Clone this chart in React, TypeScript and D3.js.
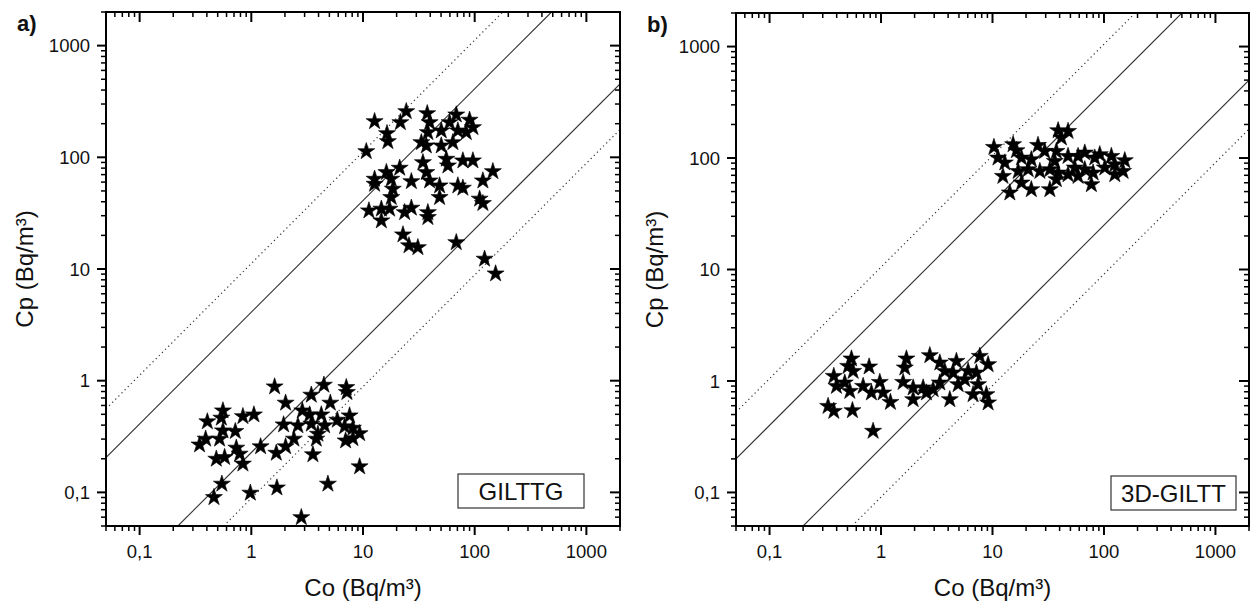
import React from 'react';
import * as d3 from 'd3';

const W = 1254;
const H = 602;
const DOMAIN: [number, number] = [0.05, 2000];
const majorTicks = [0.1, 1, 10, 100, 1000];
const tickLabels = ['0,1', '1', '10', '100', '1000'];
const xTitle = 'Co (Bq/m³)';
const yTitle = 'Cp (Bq/m³)';

// Panel a) GILTTG
const aCo = [
  12.7, 24.4, 21.6, 16.4, 16.7, 10.7, 37.6, 39.5, 68.4, 90.0, 96.4, 59.6, 50.2, 70.7, 84.1, 38.1, 33.3, 36.9, 50.2, 63.8,
  21.3, 16.2, 12.7, 12.7, 17.9, 18.5, 17.9, 27.1, 34.4, 36.9, 39.5, 48.5, 48.5, 55.7, 57.6, 78.4, 96.4, 145.5, 118.4, 70.7,
  78.4, 110.7, 118.4, 11.3, 14.6, 17.3, 14.6, 23.6, 27.1, 38.1, 38.1, 22.8, 25.8, 31.0, 68.4, 122.6, 153.9,
  1.617, 2.028, 0.557, 0.539, 0.404, 0.841, 1.055, 0.719, 0.557, 0.52, 0.39, 0.344, 0.734, 0.786, 0.577, 0.486, 0.841,
  1.211, 0.545, 0.463, 0.98, 1.695, 1.674, 2.028, 1.946, 2.406, 2.614, 2.861, 3.445, 4.467, 5.096, 3.326, 4.234, 3.445,
  4.532, 3.947, 3.818, 3.561, 5.888, 7.087, 7.176, 7.586, 6.842, 8.121, 9.324, 6.985, 8.121, 4.851, 9.324, 2.803,
];
const aCp = [
  209.6, 257.6, 205.2, 163.7, 138.8, 112.9, 247, 205.2, 240.5, 215.8, 185.2, 205.2, 173, 173, 167.1, 167.1, 135.9, 126.9, 126.9, 135.9,
  80.2, 73.3, 63.9, 57.6, 63.9, 52.0, 43.8, 60.8, 90.0, 73.3, 61.7, 55.7, 43.8, 96.5, 84.1, 93.3, 93.3, 74.8, 61.7, 55.7,
  53.1, 42.4, 38.7, 33.3, 34.5, 34.5, 27.1, 32.1, 35.2, 32.1, 29.0, 20.3, 16.2, 15.6, 17.3, 12.3, 9.08,
  0.884, 0.632, 0.539, 0.464, 0.43, 0.479, 0.496, 0.352, 0.357, 0.301, 0.301, 0.267, 0.25, 0.221, 0.206, 0.199, 0.18,
  0.257, 0.119, 0.0902, 0.0988, 0.11, 0.225, 0.257, 0.404, 0.301, 0.396, 0.539, 0.745, 0.915, 0.632, 0.496, 0.496, 0.41,
  0.396, 0.333, 0.301, 0.218, 0.445, 0.871, 0.786, 0.486, 0.388, 0.377, 0.337, 0.29, 0.304, 0.119, 0.17, 0.0597,
];

// Panel b) 3D-GILTT
const bCo = [
  38.8, 47.6, 41.5, 10.3, 15.3, 25.6, 16.4, 11.2, 12.9, 18.2, 22.3, 29.4, 37.4, 36.2, 47.6, 58.6, 67.3, 82.7, 91.7, 116.5,
  153.7, 125.0, 148.4, 101.7, 79.9, 67.3, 54.7, 47.6, 38.8, 32.7, 26.6, 20.9, 17.0, 12.4, 18.2, 22.3, 14.3, 32.7, 37.4, 77.1,
  58.6, 125.0,
  0.543, 0.507, 0.562, 0.782, 0.377, 0.398, 0.473, 0.525, 0.691, 0.82, 0.975, 1.044, 1.214, 0.335, 0.377, 0.554, 0.849,
  1.69, 1.635, 1.578, 1.941, 1.941, 2.386, 2.74, 3.369, 3.735, 4.746, 4.433, 3.369, 2.933, 4.14, 4.916, 6.043, 7.693,
  9.131, 7.171, 7.428, 6.699, 8.815, 9.131, 5.644, 2.554,
];
const bCp = [
  176.4, 174.0, 151.8, 125.0, 132.2, 130.3, 116.8, 100.4, 90.6, 100.4, 96.9, 115.1, 115.1, 93.6, 103.8, 103.8, 111.3, 100.4, 107.5, 103.8,
  95.0, 87.4, 76.1, 81.7, 73.7, 78.9, 81.7, 71.1, 73.7, 78.9, 76.1, 78.9, 76.1, 68.7, 59.9, 52.2, 48.8, 52.2, 64.2, 57.9,
  68.7, 71.1,
  1.582, 1.358, 1.224, 1.341, 1.104, 0.898, 0.963, 0.81, 0.898, 0.784, 0.975, 0.784, 0.645, 0.594, 0.536, 0.544, 0.355,
  1.582, 1.313, 0.975, 0.869, 0.682, 0.869, 1.693, 1.456, 1.224, 1.505, 1.184, 0.963, 0.839, 0.682, 0.93, 1.224, 1.669,
  1.406, 1.184, 0.93, 0.757, 0.757, 0.638, 1.031, 0.784,
];

const aSolidFactors = [4.1, 1 / 4.4];
const aDottedFactors = [11.2, 1 / 11.3];
const bSolidFactors = [4, 1 / 4];
const bDottedFactors = [10.5, 1 / 11];

const FONT = '"Liberation Sans", Arial, Helvetica, sans-serif';

function minorTicks(): number[] {
  const out: number[] = [];
  for (let e = -2; e <= 3; e++) {
    for (let m = 2; m <= 9; m++) {
      const v = m * Math.pow(10, e);
      if (v >= DOMAIN[0] * 0.999 && v <= DOMAIN[1] * 1.001) out.push(v);
    }
  }
  return out;
}

interface PanelProps {
  left: number;
  top: number;
  size: number;
  tag: string;
  label: string;
  labelBox: [number, number, number, number];
  co: number[];
  cp: number[];
  solid: number[];
  dotted: number[];
  id: string;
}

function Panel(p: PanelProps) {
  const x = d3.scaleLog().domain(DOMAIN).range([p.left, p.left + p.size]);
  const y = d3.scaleLog().domain(DOMAIN).range([p.top + p.size, p.top]);
  const x0 = p.left, x1 = p.left + p.size, y0 = p.top, y1 = p.top + p.size;
  const minors = minorTicks();
  const star = d3.symbol().type(d3.symbolStar).size(90)() as string;
  const MAJ = 9, MIN = 5;

  const diag = (f: number) => {
    const xa = Math.max(DOMAIN[0], DOMAIN[0] / f);
    const xb = Math.min(DOMAIN[1], DOMAIN[1] / f);
    return d3.line<number>().x((v) => x(v)).y((v) => y(v * f))([xa, xb]) as string;
  };

  const [bx, by, bw, bh] = p.labelBox;

  return (
    <g>
      <defs>
        <clipPath id={`clip-${p.id}`}>
          <rect x={x0} y={y0} width={p.size} height={p.size} />
        </clipPath>
      </defs>
      <g clipPath={`url(#clip-${p.id})`}>
        {p.dotted.map((f, i) => (
          <path key={`d${i}`} d={diag(f)} fill="none" stroke="#333" strokeWidth={1.2} strokeDasharray="1.2 3.2" />
        ))}
        {p.solid.map((f, i) => (
          <path key={`s${i}`} d={diag(f)} fill="none" stroke="#333" strokeWidth={1.1} />
        ))}
        {p.co.map((c, i) => (
          <path key={`p${i}`} d={star} transform={`translate(${x(c)},${y(p.cp[i])})`} fill="#000" stroke="#000" strokeWidth={0.6} strokeLinejoin="round" />
        ))}
      </g>
      {/* frame */}
      <rect x={x0} y={y0} width={p.size} height={p.size} fill="none" stroke="#000" strokeWidth={2} />
      {/* ticks bottom & top (pointing down) */}
      {majorTicks.map((t, i) => (
        <g key={`xt${i}`}>
          <line x1={x(t)} x2={x(t)} y1={y1} y2={y1 + MAJ} stroke="#000" strokeWidth={2} />
          <line x1={x(t)} x2={x(t)} y1={y0} y2={y0 + MAJ + 1} stroke="#000" strokeWidth={2} />
          <text x={x(t)} y={y1 + 32} textAnchor="middle" fontSize={18.5} fontFamily={FONT} fill="#111">{tickLabels[i]}</text>
        </g>
      ))}
      {minors.map((t, i) => (
        <g key={`xm${i}`}>
          <line x1={x(t)} x2={x(t)} y1={y1} y2={y1 + MIN} stroke="#000" strokeWidth={1.5} />
          <line x1={x(t)} x2={x(t)} y1={y0} y2={y0 + MIN} stroke="#000" strokeWidth={1.5} />
        </g>
      ))}
      {/* ticks left & right (pointing left) */}
      {majorTicks.map((t, i) => (
        <g key={`yt${i}`}>
          <line x1={x0 - MAJ} x2={x0} y1={y(t)} y2={y(t)} stroke="#000" strokeWidth={2} />
          <line x1={x1 - MAJ - 1} x2={x1} y1={y(t)} y2={y(t)} stroke="#000" strokeWidth={2} />
          <text x={x0 - 16} y={y(t)} dy="0.36em" textAnchor="end" fontSize={18.5} fontFamily={FONT} fill="#111">{tickLabels[i]}</text>
        </g>
      ))}
      {minors.map((t, i) => (
        <g key={`ym${i}`}>
          <line x1={x0 - MIN} x2={x0} y1={y(t)} y2={y(t)} stroke="#000" strokeWidth={1.5} />
          <line x1={x1 - MIN} x2={x1} y1={y(t)} y2={y(t)} stroke="#000" strokeWidth={1.5} />
        </g>
      ))}
      {/* axis titles */}
      <text x={(x0 + x1) / 2} y={y1 + 70} textAnchor="middle" fontSize={24} fontFamily={FONT} fill="#111">{xTitle}</text>
      <text transform={`translate(${x0 - 73},${(y0 + y1) / 2}) rotate(-90)`} textAnchor="middle" fontSize={24} fontFamily={FONT} fill="#111">{yTitle}</text>
      {/* panel tag */}
      <text x={x0 - 89} y={y0 + 19} fontSize={22} fontWeight="bold" fontFamily={FONT} fill="#111">{p.tag}</text>
      {/* legend box */}
      <rect x={x0 + bx} y={y0 + by} width={bw} height={bh} fill="#fff" stroke="#333" strokeWidth={1.2} />
      <text x={x0 + bx + bw / 2} y={y0 + by + bh / 2} dy="0.36em" textAnchor="middle" fontSize={24} fontFamily={FONT} fill="#111">{p.label}</text>
    </g>
  );
}

export default function App() {
  return (
    <svg width={W} height={H} style={{ position: 'absolute', left: 0, top: 0, background: '#fff' }}>
      <rect x={0} y={0} width={W} height={H} fill="#fff" />
      <Panel id="a" left={106} top={12} size={514} tag="a)" label="GILTTG" labelBox={[352, 462, 126, 34]}
        co={aCo} cp={aCp} solid={aSolidFactors} dotted={aDottedFactors} />
      <Panel id="b" left={736} top={13} size={513} tag="b)" label="3D-GILTT" labelBox={[375, 463, 125, 34]}
        co={bCo} cp={bCp} solid={bSolidFactors} dotted={bDottedFactors} />
    </svg>
  );
}
